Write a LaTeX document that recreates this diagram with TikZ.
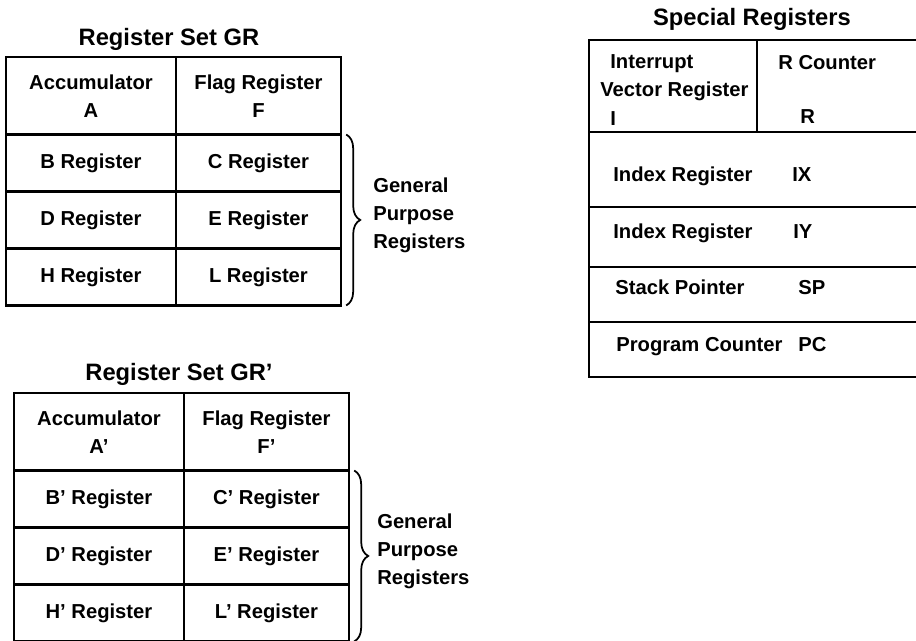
\documentclass[tikz,border=0pt]{standalone}
\usepackage{fontspec}
\setmainfont{Liberation Sans}
\usetikzlibrary{positioning,decorations.pathreplacing}

\begin{document}
\begin{tikzpicture}[
  x=0.02cm, y=-0.02cm,
  cellbox/.style={draw, line width=1.2pt, inner sep=0pt, outer sep=0pt, align=center, minimum height=1.14cm, font=\bfseries\fontsize{11.5}{16}\selectfont},
  headbox/.style={cellbox, minimum height=1.55cm},
  leftcol/.style={minimum width=3.4cm},
  rightcol/.style={minimum width=3.3cm},
  settitle/.style={font=\bfseries\fontsize{13.5}{16}\selectfont, inner sep=0pt, anchor=base},
  regtext/.style={font=\bfseries\fontsize{11.5}{16}\selectfont, inner sep=0pt, align=left, anchor=west},
  regword/.style={regtext, anchor=base west},
  gpbrace/.style={decorate, decoration={brace, amplitude=0.28cm}, line width=1pt}
]
\useasboundingbox (0,0) rectangle (916,640);
\begin{scope}
\clip (0,0) rectangle (916,640);

% register set GR
\node[headbox, leftcol, anchor=north west] (acc) at (6,57) {Accumulator\\A};
\node[headbox, rightcol, right=0pt of acc] (flag) {Flag Register\\F};
\node[cellbox, leftcol, below=0pt of acc] (b) {B Register};
\node[cellbox, rightcol, right=0pt of b] (c) {C Register};
\node[cellbox, leftcol, below=0pt of b] (d) {D Register};
\node[cellbox, rightcol, right=0pt of d] (e) {E Register};
\node[cellbox, leftcol, below=0pt of d] (h) {H Register};
\node[cellbox, rightcol, right=0pt of h] (l) {L Register};
\node[settitle] (grtitle) at ([xshift=-0.14cm, yshift=0.23cm]acc.north east) {Register Set GR};
\draw[gpbrace] ([xshift=3pt]c.north east) -- ([xshift=3pt]l.south east);
\node[regtext] (gp) at ([xshift=0.64cm, yshift=0.1cm]e.east) {General\\Purpose\\Registers};

% register set GR'
\node[headbox, leftcol, anchor=north west] (acc2) at (14,393) {Accumulator\\A'};
\node[headbox, rightcol, right=0pt of acc2] (flag2) {Flag Register\\F'};
\node[cellbox, leftcol, below=0pt of acc2] (b2) {B' Register};
\node[cellbox, rightcol, right=0pt of b2] (c2) {C' Register};
\node[cellbox, leftcol, below=0pt of b2] (d2) {D' Register};
\node[cellbox, rightcol, right=0pt of d2] (e2) {E' Register};
\node[cellbox, leftcol, below=0pt of d2] (h2) {H' Register};
\node[cellbox, rightcol, right=0pt of h2] (l2) {L' Register};
\node[settitle] (grtitle2) at ([xshift=-0.1cm, yshift=0.26cm]acc2.north east) {Register Set GR'};
\draw[gpbrace] ([xshift=3pt]c2.north east) -- ([xshift=3pt]l2.south east);
\node[regtext] (gp2) at ([xshift=0.56cm, yshift=0.1cm]e2.east) {General\\Purpose\\Registers};

% special registers
\node[cellbox, minimum width=3.36cm, minimum height=1.84cm, anchor=north west] (ivr) at (589,40) {};
\node[cellbox, minimum width=3.5cm, minimum height=1.84cm, right=0pt of ivr] (rcnt) {};
\node[cellbox, minimum width=6.86cm, minimum height=1.5cm, anchor=north west] (ix) at (ivr.south west) {};
\node[cellbox, minimum width=6.86cm, minimum height=1.2cm, below=0pt of ix] (iy) {};
\node[cellbox, minimum width=6.86cm, minimum height=1.1cm, below=0pt of iy] (sp) {};
\node[cellbox, minimum width=6.86cm, minimum height=1.1cm, below=0pt of sp] (pc) {};
\node[settitle] (sptitle) at ([xshift=-0.1cm, yshift=0.29cm]ivr.north east) {Special Registers};

\node[regtext] (ivrname) at ([xshift=0.22cm, yshift=-0.08cm]ivr.west) {\hspace*{0.2cm}Interrupt\\Vector Register\\\hspace*{0.2cm}I};
\node[regword] (rcntname) at ([xshift=0.42cm, yshift=-0.58cm]rcnt.north west) {R Counter};
\node[regword] (rcnttag) at ([xshift=0.86cm, yshift=-1.68cm]rcnt.north west) {R};
\node[regword] (ixname) at ([xshift=0.48cm, yshift=-0.25cm]ix.west) {Index Register};
\node[regword] (ixtag) at ([xshift=4.06cm, yshift=-0.25cm]ix.west) {IX};
\node[regword] (iyname) at ([xshift=0.48cm, yshift=-0.04cm]iy.west) {Index Register};
\node[regword] (iytag) at ([xshift=4.08cm, yshift=-0.04cm]iy.west) {IY};
\node[regword] (spname) at ([xshift=0.52cm, yshift=-0.01cm]sp.west) {Stack Pointer};
\node[regword] (sptag) at ([xshift=4.18cm, yshift=-0.01cm]sp.west) {SP};
\node[regword] (pcname) at ([xshift=0.54cm, yshift=-0.05cm]pc.west) {Program Counter};
\node[regword] (pctag) at ([xshift=4.18cm, yshift=-0.05cm]pc.west) {PC};
\end{scope}
\end{tikzpicture}
\end{document}
